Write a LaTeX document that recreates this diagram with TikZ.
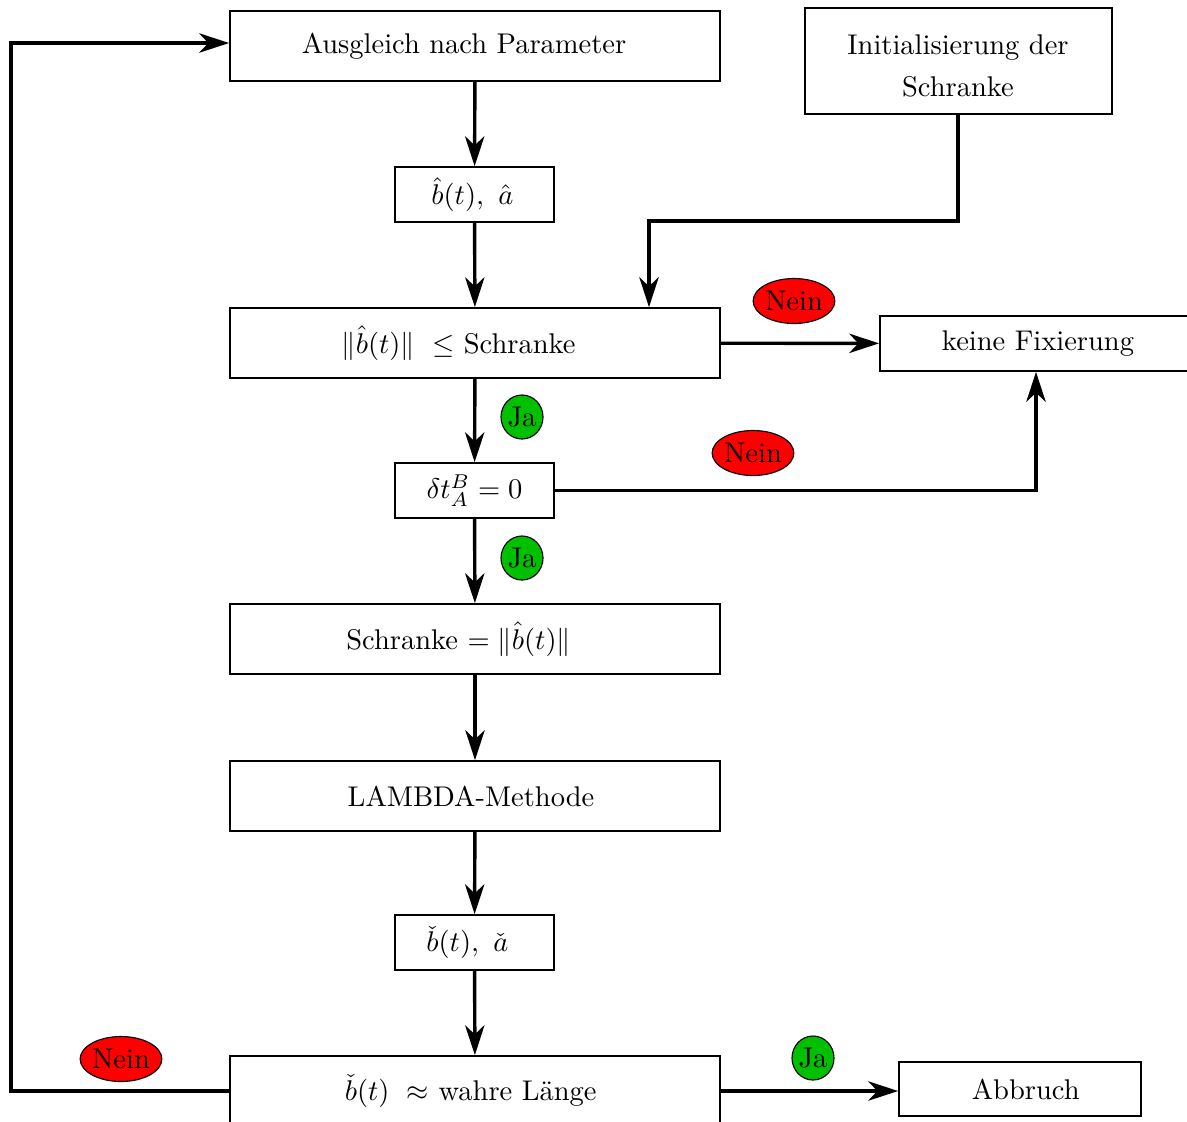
\documentclass[tikz,border=0pt]{standalone}
\usepackage{amsmath}
\usetikzlibrary{shapes.geometric,arrows.meta}
\definecolor{neinred}{RGB}{255,0,0}
\definecolor{jagreen}{RGB}{0,192,0}
\begin{document}
\begin{tikzpicture}[x=0.3509pt,y=-0.3509pt,
  box/.style={draw,line width=0.6pt,inner sep=0pt,align=center,font=\normalsize},
  widebox/.style={box,minimum width={490*0.3509pt},minimum height={70*0.3509pt}},
  smallbox/.style={box,minimum width={159*0.3509pt},minimum height={55*0.3509pt}},
  flow/.style={line width=1.2pt,-{Stealth[length=10.5pt,width=6.8pt,inset=3.2pt]}},
  nein/.style={ellipse,draw,line width=0.4pt,fill=neinred,inner sep=0pt,minimum width={80*0.3509pt},minimum height={45*0.3509pt}},
  ja/.style={ellipse,draw,line width=0.4pt,fill=jagreen,inner sep=0pt,minimum width={42*0.3509pt},minimum height={44*0.3509pt}}
]
\useasboundingbox (0,0) rectangle (1187,1121);
\clip (0,0) rectangle (1187,1121);

\node[widebox] (aus) at (475,46) {Ausgleich nach Parameter\hspace*{7.7pt}};
\node[box,minimum width={307*0.3509pt},minimum height={106*0.3509pt}] (init) at (958.5,61) {};
\node[align=center,inner sep=0pt] (inittext) at (958,66) {Initialisierung der\\[0.7ex]Schranke};
\node[smallbox] (bhat) at (474.5,194.5) {$\hat{b}(t),\ \hat{a}$\hspace*{1.5pt}};
\node[widebox] (norm) at (475,343) {$\|\hat{b}(t)\|\ \leq$ Schranke\hspace*{11.5pt}};
\node[box,minimum width={316*0.3509pt},minimum height={55*0.3509pt}] (keine) at (1038,343.5) {keine Fixierung};
\node[smallbox] (delta) at (474.5,490.5) {$\delta t_A^B = 0$};
\node[widebox] (schr) at (475,639) {Schranke $= \|\hat{b}(t)\|$\hspace*{11.5pt}};
\node[widebox] (lam) at (475,796) {LAMBDA-Methode\hspace*{2.8pt}};
\node[smallbox] (bcheck) at (474.5,942.5) {$\check{b}(t),\ \check{a}$\hspace*{5pt}};
\node[widebox] (wahr) at (475,1091) {$\check{b}(t)\ \approx$ wahre Länge\hspace*{3pt}};
\node[box,minimum width={242*0.3509pt},minimum height={54*0.3509pt}] (abb) at (1020,1089) {\hspace*{4pt}Abbruch};

\coordinate (i1) at (958,221);
\coordinate (i2) at (649,221);
\coordinate (d1) at (1036,490.5);
\coordinate (w1) at (11,1091);
\coordinate (w2) at (11,43);

\draw[flow] (aus) -- (bhat);
\draw[flow] (bhat) -- (norm);
\draw[flow] (init.south -| i1) -- (i1) -- (i2) -- (i2 |- norm.north);
\draw[flow] (norm) -- (keine);
\draw[flow] (norm) -- (delta);
\draw[flow] (delta.east) -- (d1) -- (d1 |- keine.south);
\draw[flow] (delta) -- (schr);
\draw[flow] (schr) -- (lam);
\draw[flow] (lam) -- (bcheck);
\draw[flow] (bcheck) -- (wahr);
\draw[flow] (wahr.west) -- (w1) -- (w2) -- (w2 -| aus.west);
\draw[flow] (wahr.east) -- (wahr.east -| abb.west);

\node[nein] (n1) at (794,301) {Nein};
\node[ja] (j1) at (522,417) {Ja};
\node[nein] (n2) at (753,453) {Nein};
\node[ja] (j2) at (522,558) {Ja};
\node[nein] (n3) at (121,1059) {Nein};
\node[ja] (j3) at (813,1058) {Ja};
\end{tikzpicture}
\end{document}
